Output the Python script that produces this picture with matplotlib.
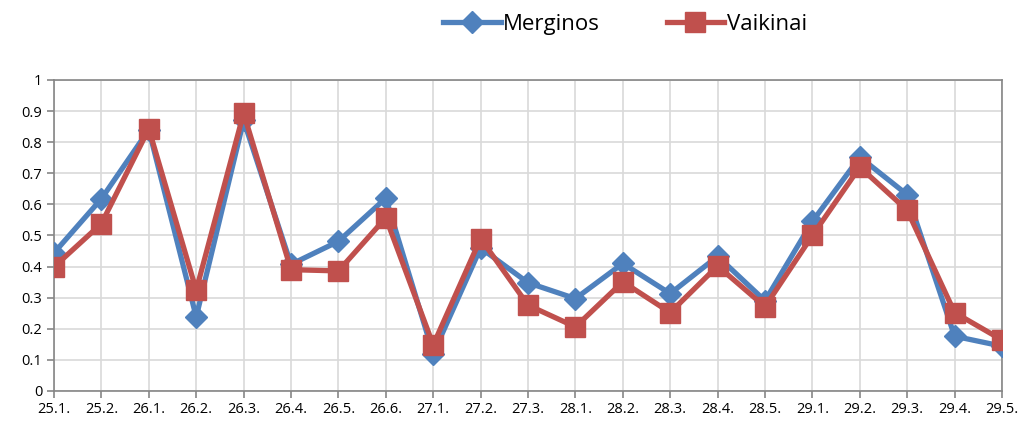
import matplotlib
matplotlib.use("Agg")
import matplotlib.pyplot as plt

labels = ["25.1.", "25.2.", "26.1.", "26.2.", "26.3.", "26.4.", "26.5.", "26.6.",
          "27.1.", "27.2.", "27.3.", "28.1.", "28.2.", "28.3.", "28.4.", "28.5.",
          "29.1.", "29.2.", "29.3.", "29.4.", "29.5."]
merginos = [0.444, 0.618, 0.84, 0.238, 0.87, 0.407, 0.481, 0.62, 0.12, 0.46,
            0.348, 0.297, 0.41, 0.313, 0.433, 0.29, 0.545, 0.752, 0.631, 0.176, 0.144]
vaikinai = [0.399, 0.538, 0.843, 0.324, 0.893, 0.39, 0.386, 0.557, 0.148, 0.49,
            0.276, 0.206, 0.351, 0.252, 0.402, 0.271, 0.5, 0.72, 0.581, 0.252, 0.164]

plt.rcParams['font.family'] = ['Open Sans', 'DejaVu Sans']

fig = plt.figure(figsize=(10.21, 4.23), dpi=100)
ax = fig.add_axes([0.0529, 0.0757, 0.9285, 0.7353])

x = list(range(len(labels)))
ax.plot(x, merginos, color='#4F81BD', marker='D', markersize=11.5, linewidth=3.8,
        label='Merginos', zorder=3)
ax.plot(x, vaikinai, color='#C0504D', marker='s', markersize=14, linewidth=3.8,
        label='Vaikinai', zorder=4)

ax.set_xlim(0, len(labels) - 1)
ax.set_ylim(0, 1)
ax.set_xticks(x)
ax.set_xticklabels(labels, fontsize=10.5)
ax.set_yticks([i / 10 for i in range(11)])
ax.set_yticklabels(["0", "0.1", "0.2", "0.3", "0.4", "0.5", "0.6", "0.7", "0.8", "0.9", "1"],
                   fontsize=10.5)
ax.grid(True, color='#D9D9D9', linewidth=1.2)
ax.set_axisbelow(True)
for s in ax.spines.values():
    s.set_color('#868686')
    s.set_linewidth(1.2)
ax.tick_params(axis='both', color='#868686', length=5, width=1.2)
ax.tick_params(axis='x', pad=3)

fig.legend(loc='upper center', bbox_to_anchor=(0.612, 1.015), ncol=2, frameon=False,
           fontsize=16, handlelength=2.6, columnspacing=3.0, handletextpad=0.1)

fig.savefig("out.png", dpi=100)
